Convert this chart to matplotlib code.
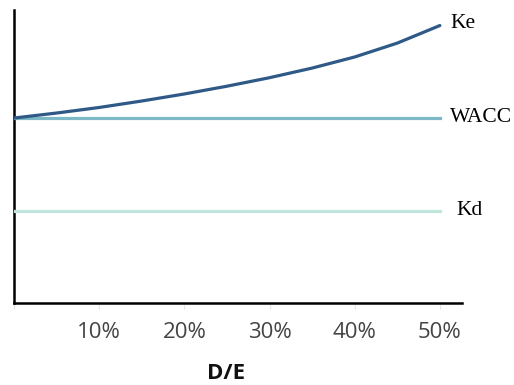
import matplotlib

matplotlib.use("Agg")
import matplotlib.pyplot as plt
from matplotlib.ticker import FixedLocator, FuncFormatter

# debt / equity ratio and cost of capital curves (arbitrary units)
de_ratio = [0.00, 0.05, 0.10, 0.15, 0.20, 0.25, 0.30, 0.35, 0.40, 0.45, 0.50]
cost_equity = [10.0, 10.27, 10.57, 10.92, 11.30, 11.72, 12.18, 12.70, 13.30, 14.05, 15.0]
wacc_level = 10.0
cost_debt_level = 5.0

tick_values = [0.0, 0.1, 0.2, 0.3, 0.4, 0.5]
tick_labels = ["", "10%", "20%", "30%", "40%", "50%"]
curve_names = ["Ke", "WACC", "Kd"]


def main() -> int:
    fig = plt.figure(figsize=(5.14, 3.85), dpi=100)
    ax = fig.add_axes([14 / 514, 82 / 385, 448 / 514, 293 / 385])

    x_end = de_ratio[-1]
    ax.plot(de_ratio, cost_equity, color="#2f5987", lw=2.3, solid_capstyle="round",
            solid_joinstyle="round", zorder=4)
    ax.plot([0, x_end], [wacc_level, wacc_level], color="#7db8c6", lw=2.3, zorder=3)
    ax.plot([0, x_end], [cost_debt_level, cost_debt_level], color="#bfe5dc", lw=2.3, zorder=3)

    ax.set_xlim(0, 0.526)
    ax.set_ylim(0, 15.84)

    for side in ("top", "right"):
        ax.spines[side].set_visible(False)
    for side in ("left", "bottom"):
        ax.spines[side].set_linewidth(1.8)
        ax.spines[side].set_color("black")

    ax.xaxis.set_major_locator(FixedLocator(tick_values))
    ax.xaxis.set_major_formatter(FuncFormatter(lambda v, pos: tick_labels[pos]))
    ax.tick_params(axis="x", length=4, width=0.8, color="#e6e6e6", pad=10,
                   labelsize=16, labelcolor="#444444")
    for label in ax.get_xticklabels():
        label.set_fontfamily("Open Sans")
    ax.set_yticks([])

    ax.set_xlabel("D/E", fontsize=16, fontweight="bold", family="Open Sans",
                  color="#111111")
    ax.xaxis.label.set_va("center")
    ax.xaxis.set_label_coords(0.473, -0.239)

    serif = dict(family="Liberation Serif", fontsize=15.5, color="black",
                 va="center", ha="left", clip_on=False)
    ax.text(0.513, 15.12, curve_names[0], **serif)
    ax.text(0.512, wacc_level + 0.05, curve_names[1], **serif)
    ax.text(0.520, cost_debt_level, curve_names[2], **serif)

    fig.savefig("out.png", dpi=100, facecolor="white")
    plt.close(fig)
    return 0


if __name__ == "__main__":
    raise SystemExit(main())
